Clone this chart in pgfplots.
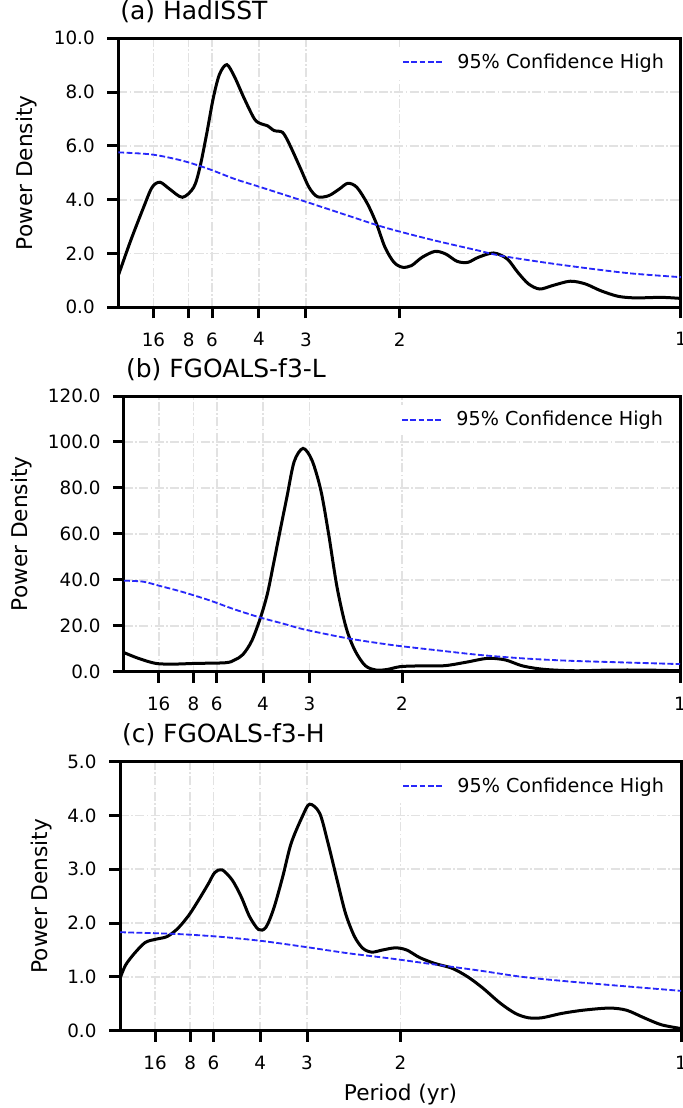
\documentclass[border=0pt]{standalone}
\usepackage{fontspec}
\setmainfont{DejaVu Sans}
\usepackage{pgfplots}
\pgfplotsset{compat=1.18}

\definecolor{gridgray}{RGB}{226,226,226}
\definecolor{confblue}{RGB}{40,40,250}

\pgfplotsset{
  spectrum/.style={
    scale only axis, anchor=south west,
    xmin=0, xmax=1, ymin=0,
    xtick={0.0625,0.125,0.166667,0.25,0.333333,0.5,1},
    xticklabels={16,8,6,4,3,2,1},
    axis line style={line width=1.8pt},
    tick style={line width=1.8pt, black},
    major tick length=6.6pt,
    tick align=outside,
    xtick pos=bottom, ytick pos=left,
    grid=major,
    major grid style={gridgray, line width=1pt, dash pattern=on 5.4pt off 1.45pt on 0.9pt off 1.45pt},
    ticklabel style={font=\fontsize{11}{13}\selectfont},
    xticklabel style={yshift=-5pt},
    yticklabel style={xshift=-4pt, /pgf/number format/.cd, fixed, fixed zerofill, precision=1, assume math mode=true},
    ylabel={Power Density},
    ylabel style={anchor=center, font=\fontsize{13}{15}\selectfont},
    title style={at={(rel axis cs:0,1)}, anchor=base west, xshift=1pt, yshift=5.4pt, inner sep=0pt, font=\fontsize{15}{17}\selectfont},
    legend style={at={(rel axis cs:1,1)}, anchor=north east, xshift=-5pt, yshift=-5pt, draw=none,
      fill=white, font=\fontsize{11.5}{13}\selectfont},
    legend cell align=left,
    legend image code/.code={\draw[#1] (0pt,0pt) -- (23.4pt,0pt); \path (30pt,0pt);},
  },
  spec/.style={black, line width=1.8pt, smooth, tension=0.5, no markers},
  conf/.style={confblue, line width=1.1pt, dash pattern=on 3.5pt off 1.45pt, smooth, no markers},
}

\begin{document}
\begin{tikzpicture}

% (a) HadISST
\begin{axis}[spectrum, at={(70.98pt,-184.38pt)},
  width=337.6pt, height=161.4pt, ymax=10, ytick={0,2,...,10},
  ylabel style={at={(axis description cs:-0.163,0.5)}},
  title={(a) HadISST}]
\addplot[spec, forget plot] coordinates {
(0,1.18)(0.022,2.48)(0.045,3.72)(0.060,4.46)(0.074,4.65)(0.091,4.40)(0.114,4.09)
(0.134,4.46)(0.145,5.2)(0.157,6.44)(0.169,7.8)(0.180,8.67)(0.193,9.02)(0.207,8.55)
(0.223,7.8)(0.242,7.0)(0.254,6.82)(0.265,6.75)(0.277,6.57)(0.292,6.5)(0.304,6.07)
(0.323,5.2)(0.339,4.46)(0.354,4.11)(0.374,4.15)(0.393,4.40)(0.408,4.61)(0.424,4.46)
(0.443,3.84)(0.459,3.1)(0.474,2.23)(0.490,1.67)(0.505,1.49)(0.521,1.55)(0.540,1.86)
(0.563,2.08)(0.582,1.98)(0.602,1.71)(0.621,1.67)(0.640,1.86)(0.667,2.02)(0.691,1.80)
(0.710,1.30)(0.729,0.87)(0.749,0.68)(0.772,0.81)(0.803,0.97)(0.830,0.87)(0.857,0.62)
(0.888,0.41)(0.919,0.35)(0.965,0.37)(1.0,0.33)};
\addplot[conf] coordinates {
(0,5.76)(0.060,5.68)(0.114,5.45)(0.161,5.14)(0.207,4.77)(0.254,4.46)(0.331,3.94)
(0.408,3.41)(0.462,3.04)(0.501,2.81)(0.563,2.48)(0.640,2.11)(0.679,1.92)(0.756,1.67)
(0.834,1.45)(0.911,1.26)(1.0,1.12)};
\addlegendentry{95\% Confidence High}
\end{axis}

% (b) FGOALS-f3-L
\begin{axis}[spectrum, at={(74.4pt,-403.0pt)},
  width=333.6pt, height=165.4pt, ymax=120, ytick={0,20,...,120},
  ylabel style={at={(axis description cs:-0.184,0.5)}},
  title={(b) FGOALS-f3-L}]
\addplot[spec, forget plot] coordinates {
(0,8.3)(0.026,5.8)(0.057,3.6)(0.089,3.3)(0.128,3.6)(0.183,3.9)(0.199,5.1)(0.214,7.5)
(0.230,13.5)(0.246,23.9)(0.258,34)(0.269,47)(0.281,61.7)(0.293,76)(0.306,91.4)
(0.322,97.2)(0.338,92.1)(0.354,79)(0.368,60)(0.383,37)(0.399,19.6)(0.415,9.4)
(0.434,2.6)(0.454,0.7)(0.474,1.0)(0.497,2.2)(0.529,2.5)(0.576,2.6)(0.615,4.1)
(0.654,5.8)(0.686,5.1)(0.717,2.5)(0.756,1.0)(0.811,0.4)(0.874,0.7)(0.937,0.7)(1.0,0.4)};
\addplot[conf] coordinates {
(0,39.6)(0.034,39.2)(0.065,37.3)(0.104,34.8)(0.152,31.2)(0.199,27.1)(0.246,23.5)
(0.285,21)(0.324,18.4)(0.403,14.5)(0.482,11.6)(0.560,9.4)(0.639,7.3)(0.717,5.8)
(0.796,4.8)(0.874,4.2)(1.0,3.3)};
\addlegendentry{95\% Confidence High}
\end{axis}

% (c) FGOALS-f3-H
\begin{axis}[spectrum, at={(72pt,-618.4pt)},
  width=336.6pt, height=161.4pt, ymax=5, ytick={0,1,...,5},
  ylabel style={at={(axis description cs:-0.139,0.5)}},
  legend style={yshift=-0.4pt},
  title={(c) FGOALS-f3-H},
  xlabel={Period (yr)},
  xlabel style={at={(axis description cs:0.5,0)}, anchor=center, yshift=-38.6pt, font=\fontsize{13}{15}\selectfont}]
\addplot[spec, forget plot] coordinates {
(0,0.97)(0.010,1.22)(0.026,1.44)(0.045,1.64)(0.064,1.70)(0.084,1.75)(0.103,1.90)
(0.123,2.15)(0.142,2.46)(0.158,2.74)(0.169,2.94)(0.182,2.99)(0.200,2.80)(0.216,2.49)
(0.231,2.12)(0.247,1.88)(0.260,1.92)(0.274,2.27)(0.290,2.86)(0.305,3.48)(0.325,3.98)
(0.338,4.21)(0.356,4.04)(0.371,3.48)(0.387,2.80)(0.402,2.18)(0.418,1.75)(0.433,1.53)
(0.449,1.46)(0.468,1.50)(0.491,1.54)(0.511,1.50)(0.534,1.36)(0.561,1.25)(0.592,1.16)
(0.620,1.00)(0.647,0.79)(0.678,0.51)(0.705,0.32)(0.728,0.24)(0.752,0.24)(0.787,0.32)
(0.825,0.38)(0.872,0.42)(0.903,0.38)(0.934,0.24)(0.965,0.11)(1.0,0.04)};
\addplot[conf] coordinates {
(0,1.83)(0.095,1.80)(0.173,1.75)(0.251,1.67)(0.328,1.56)(0.406,1.44)(0.484,1.34)
(0.561,1.23)(0.639,1.12)(0.717,1.00)(0.794,0.92)(0.872,0.85)(1.0,0.74)};
\addlegendentry{95\% Confidence High}
\end{axis}

\pgfresetboundingbox
\useasboundingbox (0pt,0pt) rectangle (409.8pt,-664.8pt);
\end{tikzpicture}
\end{document}
